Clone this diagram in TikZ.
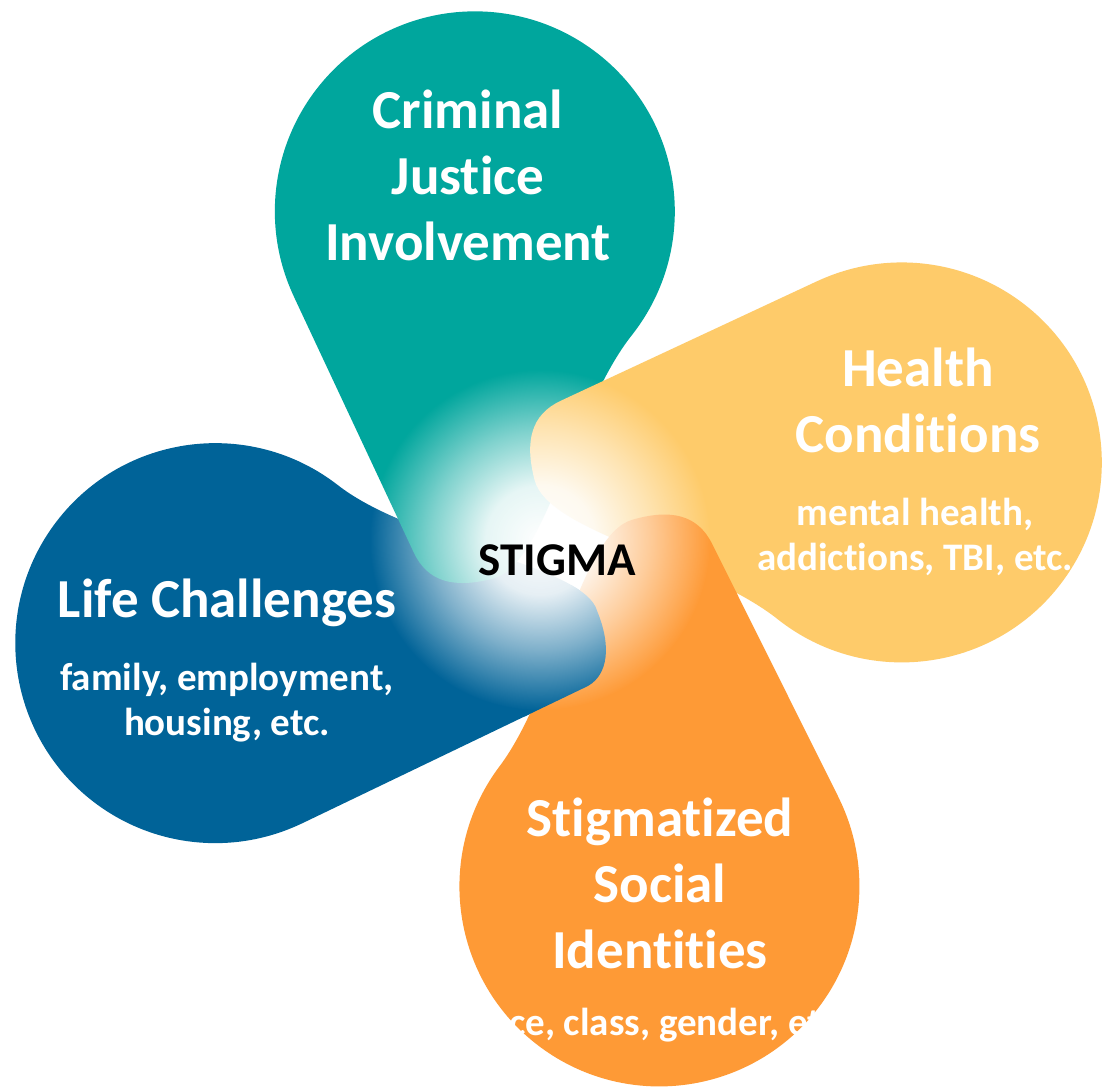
\documentclass[tikz,border=0pt]{standalone}
\usepackage{fontspec}
\setmainfont{Carlito}[Ligatures=NoCommon]
\usetikzlibrary{fadings}

\definecolor{cjteal}{RGB}{0,166,157}
\definecolor{hcyellow}{RGB}{254,203,106}
\definecolor{siorange}{RGB}{254,154,54}
\definecolor{lcblue}{RGB}{0,99,152}

% soft white spot in the middle
\pgfdeclareradialshading{glowshade}{\pgfpointorigin}{color(0bp)=(pgftransparent!0); color(8bp)=(pgftransparent!10); color(16bp)=(pgftransparent!50); color(25bp)=(pgftransparent!100); color(50bp)=(pgftransparent!100)}
\pgfdeclarefading{glowfade}{\pgfuseshading{glowshade}}

% one petal: a disc at distance #2 with a bent tail (stretched by #3) towards the origin
\newcommand{\petal}[3]{\fill[#1] (-196.6,#2-36.8) -- (-145+0.3*#3,35-#3)
  .. controls (-139+0.3*#3,3-0.6*#3) and (-115+0.4*#3,-10-0.5*#3) .. (-75+0.3*#3,-10-0.3*#3)
  .. controls (-20,-10-0.3*#3) and (45,#2-216) .. (121.5,#2-158.9)
  arc[start angle=-52.6, end angle=190.6, radius=200] -- cycle;}

\begin{document}
\begin{tikzpicture}[x=0.5pt, y=0.5pt,
  title/.style={text=white, font=\fontsize{27.5}{33}\selectfont\bfseries, align=center, anchor=base},
  note/.style={text=white, font=\fontsize{19.5}{22.5}\selectfont\bfseries, align=center, anchor=base}]
\fill[white] (-563,-538) rectangle (539,550);
\useasboundingbox (-563,-538) rectangle (539,550);

\petal{lcblue, rotate=105}{360}{24}
\petal{cjteal, rotate=14.6}{350}{0}
\petal{hcyellow, rotate=-75.5}{350}{0}
\petal{siorange, rotate=-164}{350}{0}
\begin{scope}
\clip (-40,-35) rectangle (70,-200);
\petal{lcblue, rotate=105}{360}{24}
\end{scope}

\fill[white, path fading=glowfade] (-23,10) circle[radius=170];

\node[title] (cj) at (-95,290) {Criminal\\Justice\\Involvement};
\node[title] (hc) at (355,98) {Health\\Conditions};
\node[note] (hcnote) at (352,-20) {mental health,\\addictions, TBI, etc.};
\node[title] (lc) at (-336,-67) {Life Challenges};
\node[note] (lcnote) at (-336,-185) {family, employment,\\housing, etc.};
\node[title] (si) at (97,-418) {Stigmatized\\Social\\Identities};
\node[note] (sinote) at (99,-485) {race, class, gender, etc.};
\node[font=\fontsize{23.5}{28}\selectfont\bfseries, anchor=base] (stigma) at (-6,-25) {STIGMA};
\end{tikzpicture}
\end{document}
